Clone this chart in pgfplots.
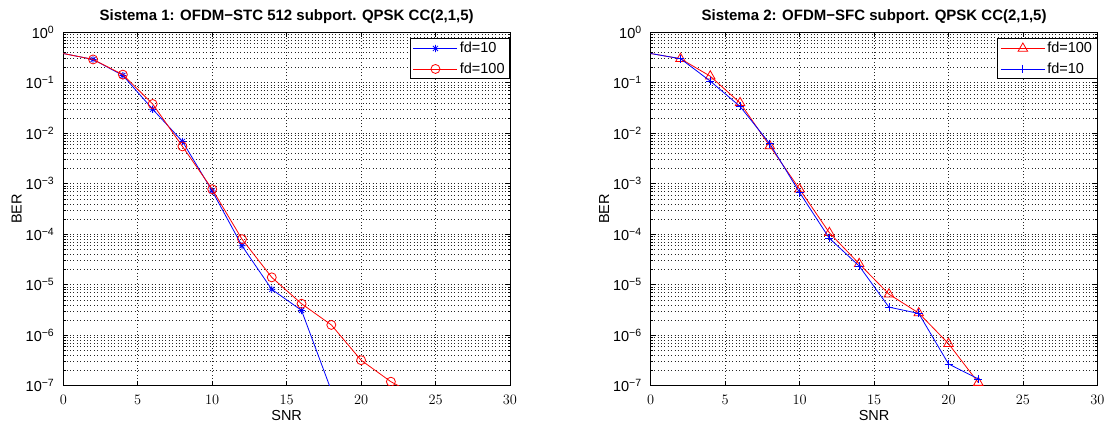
\documentclass[border=0pt]{standalone}
\usepackage{pgfplots}
\pgfplotsset{compat=1.18}
\usepackage{fontspec}
\setmainfont{Liberation Sans}

% MATLAB style '*' marker: plus and cross together
\pgfdeclareplotmark{mstar}{%
  \pgfpathmoveto{\pgfqpoint{-\pgfplotmarksize}{0pt}}\pgfpathlineto{\pgfqpoint{\pgfplotmarksize}{0pt}}%
  \pgfpathmoveto{\pgfqpoint{0pt}{-\pgfplotmarksize}}\pgfpathlineto{\pgfqpoint{0pt}{\pgfplotmarksize}}%
  \pgfpathmoveto{\pgfqpoint{-.7071\pgfplotmarksize}{-.7071\pgfplotmarksize}}\pgfpathlineto{\pgfqpoint{.7071\pgfplotmarksize}{.7071\pgfplotmarksize}}%
  \pgfpathmoveto{\pgfqpoint{-.7071\pgfplotmarksize}{.7071\pgfplotmarksize}}\pgfpathlineto{\pgfqpoint{.7071\pgfplotmarksize}{-.7071\pgfplotmarksize}}%
  \pgfusepathqstroke}

% tick labels like 10^{-3}, set in the text font
\pgfplotsset{
  log number format basis/.code 2 args={#1\raisebox{5pt}{\fontsize{10.5}{12}\selectfont\pgfmathtruncatemacro\myexp{#2}\ifnum\myexp<0 −\number-\myexp\else\myexp\fi}},
  every tick/.style={black, line width=0.6pt},
  legend image code/.code={\draw[mark repeat=2,mark phase=2] plot coordinates {(0pt,0pt) (22pt,0pt) (44pt,0pt)};},
  every axis title/.style={at={(0.5,1)}, anchor=base, yshift=12.3pt, font=\fontsize{15}{17}\selectfont\bfseries},
  every axis x label/.style={at={(0.5,0)}, anchor=base, yshift=-34.3pt, font=\fontsize{14.5}{16}\selectfont},
  every axis y label/.style={at={(0,0.5)}, xshift=-41.6pt, rotate=90, anchor=base, font=\fontsize{14.5}{16}\selectfont},
  every axis plot/.append style={line width=0.8pt},
  grid style={black!85, line width=0.6pt, dash pattern=on 0.8pt off 2.6pt},
  every axis legend/.append style={at={(1,1)}, anchor=north east, yshift=-6pt, draw=black, line width=0.8pt,
      fill=white, inner xsep=3pt, inner ysep=2pt, row sep=5pt,
      font=\fontsize{14.5}{16}\selectfont, cells={anchor=west, inner sep=2pt, text height=10pt, text depth=3pt}},
}

\begin{document}
\begin{tikzpicture}
\path (-63.3pt,-41.3pt) rectangle (1049.7pt,385.7pt);

\begin{axis}[at={(0pt,0pt)}, anchor=south west,
    width=446.7pt, height=353.4pt, scale only axis,
    ymode=log, log basis y=10,
    xmin=0, xmax=30, ymin=1e-7, ymax=1,
    xtick={0,5,...,30},
    tick align=inside,
    major tick length=5pt, minor tick length=2.5pt,
    axis line style={line width=0.8pt},
    xmajorgrids, ymajorgrids, yminorgrids,
    tick label style={font=\fontsize{14.5}{16}\selectfont, inner sep=0pt},
    xticklabel style={anchor=north, yshift=-9.3pt},
    yticklabel style={anchor=east, xshift=-9.3pt},
    xlabel={SNR}, ylabel={BER},
    clip marker paths=true,
    title={Sistema 1: OFDM−STC 512 subport. QPSK CC(2,1,5)}]
% fd=10
\addplot[blue, mark=mstar, mark size=3.6pt, mark phase=2] coordinates {
  (0,0.38) (2,0.29) (4,0.14) (6,0.030) (8,0.0069) (10,7.2e-4)
  (12,5.9e-5) (14,8.1e-6) (16,3.1e-6) (18,8e-8)};
% fd=100
\addplot[red, mark=o, mark size=4.5pt, mark phase=2] coordinates {
  (0,0.38) (2,0.29) (4,0.145) (6,0.038) (8,0.0055) (10,7.8e-4)
  (12,8e-5) (14,1.4e-5) (16,4.2e-6) (18,1.6e-6) (20,3.2e-7) (22,1.2e-7) (24,5.8e-8)};
\legend{fd=10, fd=100}
\end{axis}

\begin{axis}[at={(587.4pt,0pt)}, anchor=south west,
    width=446.7pt, height=353.4pt, scale only axis,
    ymode=log, log basis y=10,
    xmin=0, xmax=30, ymin=1e-7, ymax=1,
    xtick={0,5,...,30},
    tick align=inside,
    major tick length=5pt, minor tick length=2.5pt,
    axis line style={line width=0.8pt},
    xmajorgrids, ymajorgrids, yminorgrids,
    tick label style={font=\fontsize{14.5}{16}\selectfont, inner sep=0pt},
    xticklabel style={anchor=north, yshift=-9.3pt},
    yticklabel style={anchor=east, xshift=-9.3pt},
    xlabel={SNR}, ylabel={BER},
    clip marker paths=true,
    title={Sistema 2: OFDM−SFC subport. QPSK CC(2,1,5)}]
% fd=100
\addplot[red, mark=triangle, mark size=5.5pt, mark phase=2] coordinates {
  (0,0.38) (2,0.30) (4,0.135) (6,0.040) (8,0.0056) (10,7.8e-4)
  (12,1.07e-4) (14,2.6e-5) (16,6.5e-6) (18,2.75e-6) (20,6.8e-7) (22,1.15e-7)};
% fd=10
\addplot[blue, mark=+, mark size=4pt, mark phase=2] coordinates {
  (0,0.38) (2,0.30) (4,0.108) (6,0.034) (8,0.0062) (10,6.7e-4)
  (12,8.3e-5) (14,2.35e-5) (16,3.6e-6) (18,2.7e-6) (20,2.7e-7) (22,1.36e-7)};
\legend{fd=100, fd=10}
\end{axis}
\end{tikzpicture}
\end{document}
